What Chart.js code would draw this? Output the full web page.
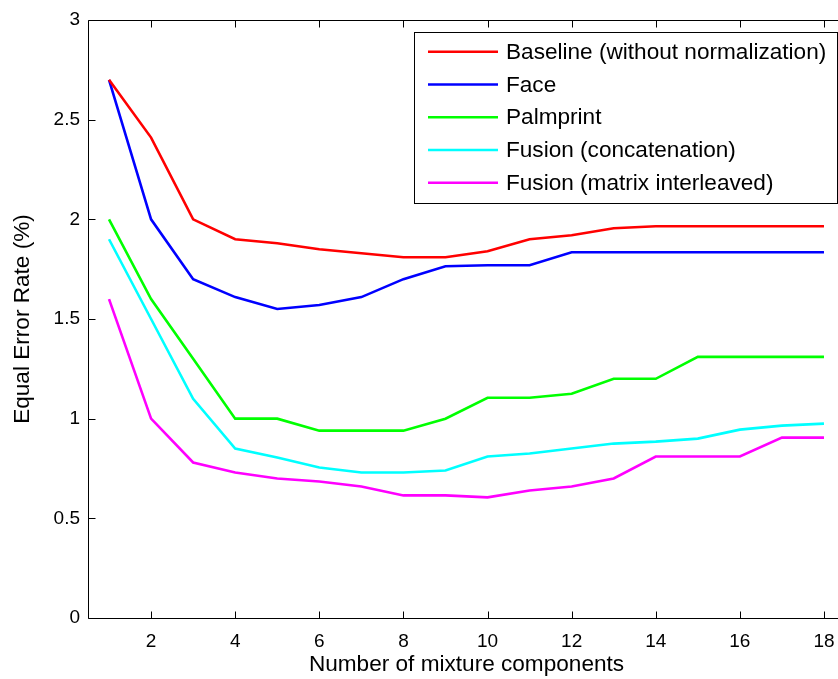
<!DOCTYPE html>
<html>
<head>
<meta charset="utf-8">
<script src="https://cdn.jsdelivr.net/npm/chart.js@4/dist/chart.umd.min.js"></script>
<style>
  html, body { margin: 0; padding: 0; background: #fff; overflow: hidden; }
  #wrap { width: 838px; height: 679px; overflow: hidden; position: relative; }
  canvas { display: block; }
</style>
</head>
<body>
<div id="wrap"><canvas id="c" width="860" height="679"></canvas></div>
<script>
// ---- data ----
const components = [1,2,3,4,5,6,7,8,9,10,11,12,13,14,15,16,17,18];
const baseline   = [2.70,2.41,2.00,1.90,1.88,1.85,1.83,1.81,1.81,1.84,1.90,1.92,1.955,1.965,1.965,1.965,1.965,1.965];
const face       = [2.70,2.00,1.70,1.61,1.55,1.57,1.61,1.70,1.765,1.77,1.77,1.835,1.835,1.835,1.835,1.835,1.835,1.835];
const palmprint  = [2.00,1.60,1.30,1.00,1.00,0.94,0.94,0.94,1.00,1.105,1.105,1.125,1.20,1.20,1.31,1.31,1.31,1.31];
const fusionConc = [1.90,1.50,1.10,0.85,0.805,0.755,0.73,0.73,0.74,0.81,0.825,0.85,0.875,0.885,0.90,0.945,0.965,0.975];
const fusionMat  = [1.60,1.00,0.78,0.73,0.70,0.685,0.66,0.615,0.615,0.605,0.64,0.66,0.70,0.81,0.81,0.81,0.905,0.905];
const seriesNames = ['Baseline (without normalization)','Face','Palmprint','Fusion (concatenation)','Fusion (matrix interleaved)'];
const xTicks = [2,4,6,8,10,12,14,16,18];
const yTicks = [0,0.5,1,1.5,2,2.5,3];

const FONT = '"Liberation Sans", Arial, Helvetica, sans-serif';
const LABEL_SIZE = 22.6;
const colors = ['#ff0000','#0000ff','#00ff00','#00ffff','#ff00ff'];
const allSeries = [baseline, face, palmprint, fusionConc, fusionMat];

const datasets = allSeries.map((vals, k) => ({
  label: seriesNames[k],
  data: components.map((x, i) => ({x: x, y: vals[i]})),
  borderColor: colors[k],
  backgroundColor: colors[k],
  borderWidth: 2.6,
  pointRadius: 0,
  tension: 0,
  fill: false
}));

// frame + inward ticks (MATLAB box style)
const framePlugin = {
  id: 'frame',
  afterDraw(chart) {
    const {ctx, chartArea: a, scales} = chart;
    ctx.save();
    ctx.strokeStyle = '#000';
    ctx.lineWidth = 1;
    const L = Math.round(a.left) + 0.5, R = Math.round(a.right) + 0.5;
    const T = Math.round(a.top) + 0.5, B = Math.round(a.bottom) + 0.5;
    ctx.beginPath();
    ctx.moveTo(L, T); ctx.lineTo(R, T); ctx.lineTo(R, B); ctx.lineTo(L, B); ctx.closePath();
    ctx.stroke();
    const tl = 7;
    ctx.beginPath();
    scales.x.ticks.forEach(t => {
      const px = Math.round(scales.x.getPixelForValue(t.value)) + 0.5;
      ctx.moveTo(px, B); ctx.lineTo(px, B - tl);
      ctx.moveTo(px, T); ctx.lineTo(px, T + tl);
    });
    scales.y.ticks.forEach(t => {
      const py = Math.round(scales.y.getPixelForValue(t.value)) + 0.5;
      ctx.moveTo(L, py); ctx.lineTo(L + tl, py);
      ctx.moveTo(R, py); ctx.lineTo(R - tl, py);
    });
    ctx.stroke();
    ctx.restore();
  }
};

// MATLAB-style legend box inside the axes (northeast)
const legendPlugin = {
  id: 'boxLegend',
  afterDraw(chart) {
    const {ctx} = chart;
    const left = 414.5, top = 32.5, right = 837.5, bottom = 203.5;
    ctx.save();
    ctx.fillStyle = '#fff';
    ctx.fillRect(left, top, right - left, bottom - top);
    ctx.strokeStyle = '#000';
    ctx.lineWidth = 1;
    ctx.strokeRect(left, top, right - left, bottom - top);
    ctx.font = LABEL_SIZE + 'px ' + FONT;
    ctx.textBaseline = 'middle';
    ctx.textAlign = 'left';
    chart.data.datasets.forEach((ds, i) => {
      const y = 51.7 + i * 32.75;
      ctx.strokeStyle = ds.borderColor;
      ctx.lineWidth = 2.6;
      ctx.beginPath();
      ctx.moveTo(428, y); ctx.lineTo(498, y);
      ctx.stroke();
      ctx.fillStyle = '#000';
      ctx.fillText(ds.label, 506, y + 1);
    });
    ctx.restore();
  }
};

new Chart(document.getElementById('c'), {
  type: 'line',
  data: { datasets },
  options: {
    responsive: false,
    animation: false,
    layout: { padding: { top: 20, right: 15, left: 0, bottom: 0 } },
    plugins: { legend: { display: false }, tooltip: { enabled: false } },
    scales: {
      x: {
        type: 'linear',
        min: 0.5, max: 18.5,
        grid: { display: false, drawTicks: false },
        border: { display: false },
        afterBuildTicks: s => { s.ticks = xTicks.map(v => ({ value: v })); },
        afterFit: s => { s.height = 61; },
        ticks: { color: '#000', padding: 12, font: { family: FONT, size: 19 }, maxRotation: 0, autoSkip: false,
                 callback: v => String(v) },
        title: { display: true, text: 'Number of mixture components', color: '#000',
                 font: { family: FONT, size: LABEL_SIZE }, padding: { top: 0, bottom: 1 } }
      },
      y: {
        min: 0, max: 3,
        grid: { display: false, drawTicks: false },
        border: { display: false },
        afterBuildTicks: s => { s.ticks = yTicks.map(v => ({ value: v })); },
        afterFit: s => { s.width = 88; },
        ticks: { color: '#000', padding: 8, font: { family: FONT, size: 19 }, callback: v => String(v) },
        title: { display: true, text: 'Equal Error Rate (%)', color: '#000',
                 font: { family: FONT, size: LABEL_SIZE }, padding: { top: 9, bottom: 0 } }
      }
    }
  },
  plugins: [framePlugin, legendPlugin]
});
</script>
</body>
</html>
